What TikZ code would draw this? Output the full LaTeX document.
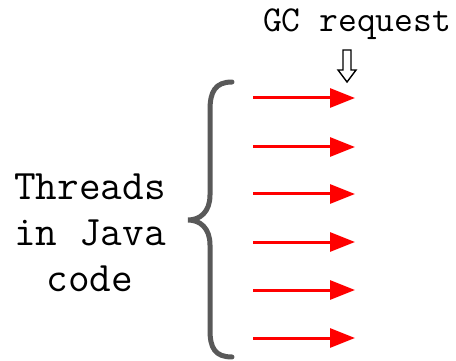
\documentclass[tikz,border=0pt]{standalone}
\usepackage{fontspec}
\usetikzlibrary{arrows.meta}
\definecolor{bracegray}{HTML}{595959}
\tikzset{
  thread/.style={draw=red, line width=3pt, -{Triangle[length=25pt,width=19pt]}},
  brace/.style={draw=bracegray, line width=5pt, line cap=round, line join=miter},
  hollowarrow/.style={draw=black, line width=1.4pt, fill=white, line join=miter}
}
\begin{document}
\begin{tikzpicture}[x=1pt,y=-1pt]
  \useasboundingbox (0,0) rectangle (456,361);

  % label for the group of threads
  \node[align=center, font=\ttfamily\fontsize{42}{46}\selectfont, inner sep=0pt] (threads) at (90,233)
    {Threads\\in Java\\code};

  % curly brace grouping the threads
  \draw[brace] (232,82) .. controls (215,82) and (210,92) .. (210,110)
    -- (210,195) .. controls (210,212) and (200,220) .. (188,220)
    .. controls (200,220) and (210,228) .. (210,245)
    -- (210,330) .. controls (210,348) and (215,357) .. (232,357);

  % thread arrows
  \foreach \i/\y in {1/98, 2/147, 3/194, 4/242, 5/290, 6/338} {
    \coordinate (s\i) at (253,\y);
    \coordinate (e\i) at (355,\y);
    \draw[thread] (s\i) -- (e\i);
  }

  % GC request label with hollow down arrow
  \node[anchor=base, font=\ttfamily\fontsize{36.5}{40}\selectfont, inner sep=0pt] (gc) at (357,32) {GC request};
  \draw[hollowarrow] (343,50) -- (351,50) -- (351,70) -- (356,70) -- (347,82)
    -- (338,70) -- (343,70) -- cycle;
\end{tikzpicture}
\end{document}
